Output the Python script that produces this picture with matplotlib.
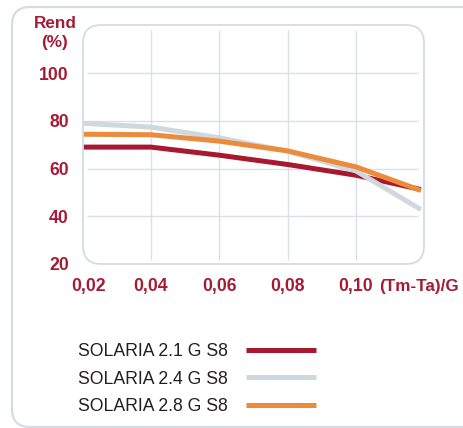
import matplotlib
matplotlib.use("Agg")
import matplotlib.pyplot as plt
from matplotlib.patches import FancyBboxPatch
from matplotlib.transforms import IdentityTransform, ScaledTranslation

plt.rcParams['font.family'] = ['Liberation Sans', 'DejaVu Sans']

# data
x = [0.02, 0.04, 0.06, 0.08, 0.10, 0.119]
rend_21 = [69.0, 69.0, 65.6, 61.7, 57.2, 51.2]
rend_24 = [79.0, 77.4, 72.9, 67.3, 59.0, 42.8]
rend_28 = [74.4, 74.2, 71.5, 67.4, 60.7, 50.8]
names = ["SOLARIA 2.1 G S8", "SOLARIA 2.4 G S8", "SOLARIA 2.8 G S8"]
xticks = [0.02, 0.04, 0.06, 0.08, 0.10]
xlabels = ["0,02", "0,04", "0,06", "0,08", "0,10"]
yticks = [20, 40, 60, 80, 100]

red = "#a8192f"
grey = "#cfd8df"
orange = "#ec8b3b"
txt_red = "#a61b33"
frame = "#d3dce4"

fig = plt.figure(figsize=(4.63, 4.28), dpi=100)
ax = fig.add_axes([0.1786, 0.3836, 0.7378, 0.5565])
ax.set_xlim(0.02, 0.12)
ax.set_ylim(20, 120)
ax.patch.set_visible(False)
for s in ax.spines.values():
    s.set_visible(False)

# grid (does not reach the frame)
ax.vlines(xticks[1:], 21.6, 118.2, color="#d9e0e7", lw=1, zorder=1)
ax.hlines(yticks[1:], 0.0213, 0.1181, color="#d9e0e7", lw=1, zorder=1)

# frames
outer = FancyBboxPatch((12, 1), 470, 420, boxstyle="round,pad=0,rounding_size=18",
                       transform=IdentityTransform(), fill=False, ec=frame, lw=1.6)
inner = FancyBboxPatch((83, 164), 341, 239, boxstyle="round,pad=0,rounding_size=18",
                       transform=IdentityTransform(), fill=False, ec=frame, lw=1.3)
fig.add_artist(outer)
fig.add_artist(inner)

l1, = ax.plot(x, rend_21, color=red, lw=3.6, solid_capstyle="butt", zorder=3, label=names[0])
l2, = ax.plot(x, rend_24, color=grey, lw=3.6, solid_capstyle="butt", zorder=4, label=names[1])
l3, = ax.plot(x, rend_28, color=orange, lw=3.6, solid_capstyle="butt", zorder=5, label=names[2])

ax.set_xticks(xticks)
ax.set_xticklabels(xlabels)
ax.set_yticks(yticks)
ax.tick_params(length=0, labelsize=12.7, labelcolor=txt_red)
ax.tick_params(axis="x", pad=10.5)
ax.tick_params(axis="y", pad=10)
for lab in ax.get_xticklabels() + ax.get_yticklabels():
    lab.set_fontweight("bold")
# first x label sits a little right of its position
ax.get_xticklabels()[0].set_transform(
    ax.get_xticklabels()[0].get_transform() + ScaledTranslation(6 / 100, 0, fig.dpi_scale_trans))

fig.text(419 / 463, 1 - 286 / 428, "(Tm-Ta)/G", ha="center", va="center",
         color=txt_red, fontsize=12.3, fontweight="bold")
fig.text(55 / 463, 1 - 23 / 428, "Rend", ha="center", va="center",
         color=txt_red, fontsize=12.3, fontweight="bold")
fig.text(55 / 463, 1 - 43 / 428, "(%)", ha="center", va="center",
         color=txt_red, fontsize=12.3, fontweight="bold")

leg = fig.legend(handles=[l1, l2, l3], loc="upper left", bbox_to_anchor=(78 / 463, 1 - 343 / 428),
                 frameon=False, markerfirst=False, fontsize=12.7, handlelength=4.0,
                 handletextpad=1.0, labelspacing=0.6, borderpad=0, borderaxespad=0)
for t in leg.get_texts():
    t.set_color("#231f20")

fig.savefig("out.png", dpi=100)
